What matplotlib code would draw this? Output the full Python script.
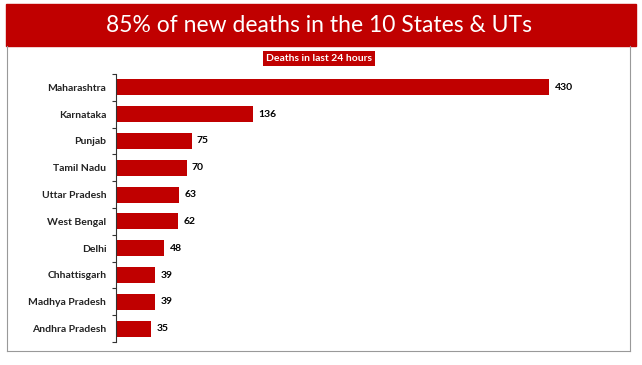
import matplotlib.pyplot as plt
import matplotlib.patches as mpatches
import numpy as np

states = ["Maharashtra", "Karnataka", "Punjab", "Tamil Nadu", "Uttar Pradesh",
          "West Bengal", "Delhi", "Chhattisgarh", "Madhya Pradesh", "Andhra Pradesh"]
deaths = [430, 136, 75, 70, 63, 62, 48, 39, 39, 35]

red = "#C00000"
plt.rcParams['font.family'] = ['Lato', 'DejaVu Sans']

W, H = 642, 365
fig = plt.figure(figsize=(W / 100, H / 100), dpi=100)

# header band
fig.patches.append(mpatches.Rectangle((6 / W, 1 - 46 / H), 630 / W, 42 / H,
                                      transform=fig.transFigure, color=red, zorder=0))
fig.text(319 / W, 1 - 25 / H, "85% of new deaths in the 10 States & UTs",
         color="white", fontsize=16.5, ha="center", va="center")

# outer frame
fig.add_artist(plt.Line2D([7 / W, 7 / W], [1 - 46 / H, 1 - 351 / H], color="#999999", lw=0.8,
                          transform=fig.transFigure))
fig.add_artist(plt.Line2D([630 / W, 630 / W], [1 - 46 / H, 1 - 351 / H], color="#999999", lw=0.8,
                          transform=fig.transFigure))
fig.add_artist(plt.Line2D([7 / W, 630 / W], [1 - 351 / H, 1 - 351 / H], color="#999999", lw=0.8,
                          transform=fig.transFigure))

# subtitle box
fig.text(319 / W, 1 - 58.5 / H, "Deaths in last 24 hours", color="white", fontsize=7.5,
         fontweight="bold", ha="center", va="center",
         bbox=dict(boxstyle="square,pad=0.3", fc=red, ec="none"))

ax = fig.add_axes([116 / W, 1 - 342 / H, 514 / W, 268 / H])
y = np.arange(len(states))
ax.barh(y, deaths, height=0.6, color=red)
ax.set_ylim(len(states) - 0.5, -0.5)
ax.set_xlim(0, 510)
for yi, v in zip(y, deaths):
    ax.text(v + 5, yi, str(v), va="center", ha="left", fontsize=7.5, fontweight="bold")

ax.set_yticks(y)
ax.set_yticklabels(states, fontsize=7.5, fontweight="bold", color="#222222")
ax.tick_params(axis="y", which="major", length=0, pad=7)
ax.set_yticks(np.arange(-0.5, len(states), 1), minor=True)
ax.tick_params(axis="y", which="minor", length=3, width=0.8, color="#333333")
ax.set_xticks([])
for s in ["top", "right", "bottom"]:
    ax.spines[s].set_visible(False)
ax.spines["left"].set_color("#333333")
ax.spines["left"].set_linewidth(0.8)

fig.savefig("out.png", dpi=100)
